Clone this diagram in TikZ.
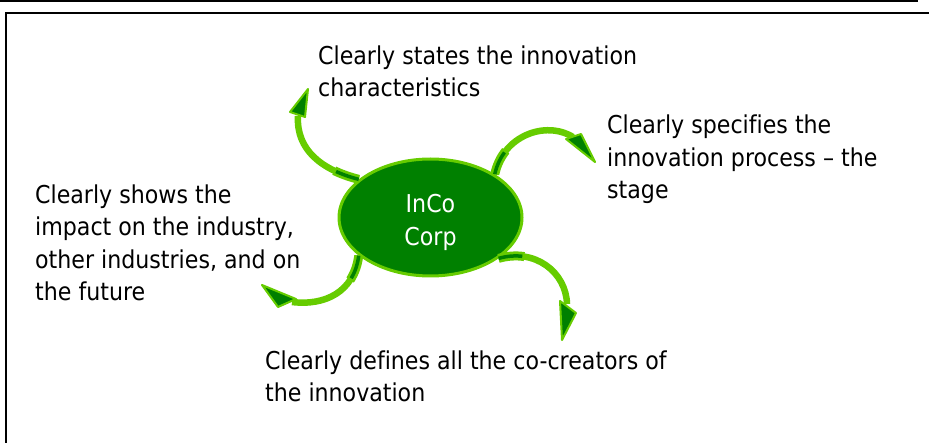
\documentclass[tikz,border=0pt]{standalone}
\usepackage{fontspec}
\setmainfont[Ligatures=NoCommon]{DejaVu Sans Condensed}
\usetikzlibrary{shapes.geometric}
\definecolor{lgreen}{RGB}{102,204,0}
\definecolor{dgreen}{RGB}{0,128,0}
\tikzset{
  txt/.style={anchor=base west, align=left, inner sep=0pt, font=\fontsize{24.6}{32.5}\selectfont},
  frameline/.style={draw=black, line width=2pt},
  shaft/.style={draw=lgreen, line width=6.5pt, line cap=butt},
  shaftbase/.style={draw=lgreen, line width=9pt, line cap=butt, dash pattern=on 26pt off 600pt},
  core/.style={draw=dgreen, line width=3.5pt, line cap=butt, dash pattern=on 24pt off 600pt},
  headtri/.style={fill=dgreen, draw=lgreen, line width=2pt, line join=round},
}
\begin{document}
\begin{tikzpicture}[x=1pt,y=-1pt]
\useasboundingbox (0,0) rectangle (929,443);
% frame
\coordinate (tl) at (0,1);
\coordinate (tr) at (918,1);
\coordinate (bxa) at (6,443);
\coordinate (bxb) at (6,13);
\coordinate (bxc) at (929,13);
\draw[frameline] (tl) -- (tr);
\draw[frameline] (bxa) -- (bxb) -- (bxc);

% central node
\node[ellipse, draw=lgreen, line width=3pt, fill=dgreen, minimum width=183pt, minimum height=117pt,
      inner sep=0pt, text=white, font=\fontsize{24.6}{33}\selectfont] (corp) at (430.5,217.5)
      {\raisebox{-5pt}[\height][\depth]{\parbox{90pt}{\centering InCo\\Corp}}};

% free ends
\coordinate (t1) at (308,89);
\coordinate (t2) at (595,162);
\coordinate (t3) at (262,285);
\coordinate (t4) at (562,340);

% arrow 1 (up-left)
\draw[shaft] (corp.152) .. controls (322,170) and (296,150) .. (298,116);
\draw[shaftbase] (corp.152) .. controls (322,170) and (296,150) .. (298,116);
\draw[core] (corp.152) .. controls (322,170) and (296,150) .. (298,116);
\draw[headtri] (t1) -- (290,112) -- (305,117) -- cycle;

% arrow 2 (up-right)
\draw[shaft] (corp.34) .. controls (503,136) and (545,120) .. (573,137);
\draw[shaftbase] (corp.34) .. controls (503,136) and (545,120) .. (573,137);
\draw[core] (corp.34) .. controls (503,136) and (545,120) .. (573,137);
\draw[headtri] (t2) -- (566,139) -- (581,134) -- cycle;

% arrow 3 (down-left)
\draw[shaft] (corp.208) .. controls (354,292) and (325,306) .. (292,302);
\draw[shaftbase] (corp.208) .. controls (354,292) and (325,306) .. (292,302);
\draw[core] (corp.208) .. controls (354,292) and (325,306) .. (292,302);
\draw[headtri] (t3) -- (278,307) -- (296,299) -- cycle;

% arrow 4 (down-right)
\draw[shaft] (corp.329) .. controls (535,248) and (566,272) .. (567,304);
\draw[shaftbase] (corp.329) .. controls (535,248) and (566,272) .. (567,304);
\draw[core] (corp.329) .. controls (535,248) and (566,272) .. (567,304);
\draw[headtri] (t4) -- (560,301) -- (576,313) -- cycle;

% texts (anchor = baseline of last line)
\node[txt] (tx1) at (318,97) {Clearly states the innovation\\characteristics};
\node[txt] (tx2) at (607,199) {Clearly specifies the\\innovation process – the\\stage};
\node[txt] (tx3) at (35,301) {Clearly shows the\\impact on the industry,\\other industries, and on\\the future};
\node[txt] (tx4) at (265,402) {Clearly defines all the co-creators of\\the innovation};
\end{tikzpicture}
\end{document}
